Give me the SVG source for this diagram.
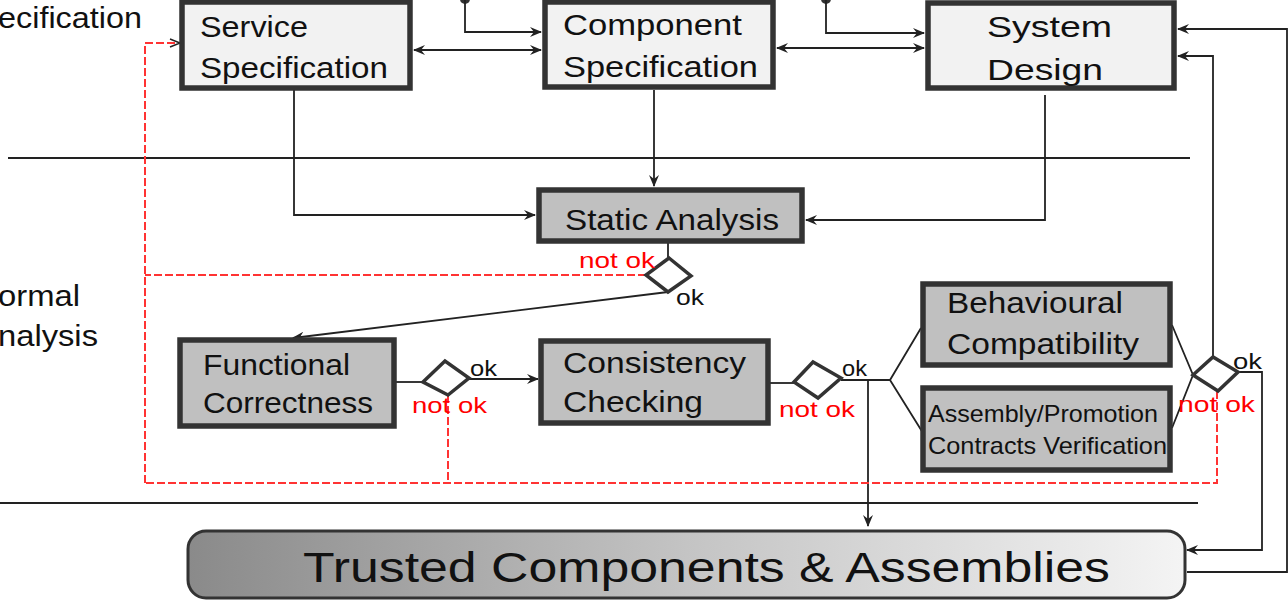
<svg xmlns="http://www.w3.org/2000/svg" width="1288" height="600" viewBox="0 0 1288 600">
<defs>
<marker id="arr" viewBox="0 0 12 10" refX="11" refY="5" markerWidth="12" markerHeight="10" markerUnits="userSpaceOnUse" orient="auto-start-reverse">
<path d="M0,0 L12,5 L0,10 L4,5 z" fill="#222"/>
</marker>
<linearGradient id="grad" x1="0" y1="0" x2="1" y2="0">
<stop offset="0" stop-color="#8a8a8a"/>
<stop offset="0.5" stop-color="#c4c4c4"/>
<stop offset="1" stop-color="#f4f4f4"/>
</linearGradient>
<style>
.t{font-family:"Liberation Sans",Arial,sans-serif;fill:#111}
.lt{fill:#f2f2f2;stroke:#333;stroke-width:5.5}
.dk{fill:#c0c0c0;stroke:#333;stroke-width:5.5}
.ln{fill:none;stroke:#222;stroke-width:1.8}
.rd{fill:none;stroke:#f33;stroke-width:2;stroke-dasharray:8 3}
.dm{fill:#fff;stroke:#333;stroke-width:3.5}
.red{font-family:"Liberation Sans",Arial,sans-serif;fill:#f00;font-size:22px}
.ok{font-family:"Liberation Sans",Arial,sans-serif;fill:#111;font-size:22px}
.sep{stroke:#222;stroke-width:2}
</style>
</defs>

<g id="labels">
<text class="t" x="-2" y="28" font-size="30" textLength="144" lengthAdjust="spacingAndGlyphs">ecification</text>
<text class="t" x="-2" y="306" font-size="30" textLength="82" lengthAdjust="spacingAndGlyphs">ormal</text>
<text class="t" x="-2" y="346" font-size="30" textLength="100" lengthAdjust="spacingAndGlyphs">nalysis</text>
</g>

<g id="separators">
<line class="sep" x1="8" y1="158" x2="1190" y2="158"/>
<line class="sep" x1="0" y1="503" x2="1198" y2="503"/>
</g>

<g id="connectors">
<circle cx="465" cy="-1" r="5" fill="#333"/>
<circle cx="826" cy="-1" r="5" fill="#333"/>
<path class="ln" d="M465,0 V32 H541" marker-end="url(#arr)"/>
<path class="ln" d="M826,0 V33 H924" marker-end="url(#arr)"/>
<path class="ln" d="M414,50 H541" marker-start="url(#arr)" marker-end="url(#arr)"/>
<path class="ln" d="M777,48 H924" marker-start="url(#arr)" marker-end="url(#arr)"/>
<path class="ln" d="M1187,572 H1287 V29 H1178" marker-end="url(#arr)"/>
<path class="ln" d="M1213,357 V56 H1178" marker-end="url(#arr)"/>
<path class="ln" d="M654,90 V186" marker-end="url(#arr)"/>
<path class="ln" d="M294,90 V215 H535" marker-end="url(#arr)"/>
<path class="ln" d="M1045,95 V220 H806" marker-end="url(#arr)"/>
<path class="ln" d="M668,243 V258"/>
<path class="ln" d="M668,292 L293,338" marker-end="url(#arr)"/>
<path class="ln" d="M396,382 H423"/>
<path class="ln" d="M469,379 H538" marker-end="url(#arr)"/>
<path class="ln" d="M770,383 H794"/>
<path class="ln" d="M841,380 H890 L921,328 M890,380 L923,433"/>
<path class="ln" d="M868,380 V526" marker-end="url(#arr)"/>
<path class="ln" d="M1172,325 L1193,375 L1172,428"/>
<path class="ln" d="M1238,372 H1262 V550 H1187" marker-end="url(#arr)"/>
<path class="rd" d="M646,275 H145"/>
<path class="rd" d="M145,483 V43 H178"/>
<path d="M170,39 L180,43 L170,47" fill="none" stroke="#222" stroke-width="1.5"/>
<path class="rd" d="M448,395 V483"/>
<path class="rd" d="M1217,391 V483 H145"/>
</g>

<g id="service-specification">
<rect class="lt" x="182" y="2" width="228" height="86"/>
<text class="t" x="200" y="37" font-size="30" textLength="108" lengthAdjust="spacingAndGlyphs">Service</text>
<text class="t" x="200" y="78" font-size="30" textLength="188" lengthAdjust="spacingAndGlyphs">Specification</text>
</g>

<g id="component-specification">
<rect class="lt" x="545" y="2" width="228" height="85"/>
<text class="t" x="563" y="35" font-size="30" textLength="179" lengthAdjust="spacingAndGlyphs">Component</text>
<text class="t" x="563" y="77" font-size="30" textLength="195" lengthAdjust="spacingAndGlyphs">Specification</text>
</g>

<g id="system-design">
<rect class="lt" x="928" y="3" width="246" height="85"/>
<text class="t" x="987" y="37" font-size="30" textLength="125" lengthAdjust="spacingAndGlyphs">System</text>
<text class="t" x="987" y="80" font-size="30" textLength="116" lengthAdjust="spacingAndGlyphs">Design</text>
</g>

<g id="static-analysis">
<rect class="dk" x="539" y="190" width="263" height="51"/>
<text class="t" x="565" y="230" font-size="30" textLength="214" lengthAdjust="spacingAndGlyphs">Static Analysis</text>
</g>

<g id="decision-static">
<polygon class="dm" points="669,258 691,276 668,292 646,275"/>
<text class="red" x="579" y="268" textLength="76" lengthAdjust="spacingAndGlyphs">not ok</text>
<text class="ok" x="676" y="305" textLength="28" lengthAdjust="spacingAndGlyphs">ok</text>
</g>

<g id="functional-correctness">
<rect class="dk" x="180" y="340" width="214" height="86"/>
<text class="t" x="203" y="375" font-size="30" textLength="147" lengthAdjust="spacingAndGlyphs">Functional</text>
<text class="t" x="203" y="413" font-size="30" textLength="170" lengthAdjust="spacingAndGlyphs">Correctness</text>
</g>

<g id="decision-functional">
<polygon class="dm" points="423,382 445,361 469,378 448,395"/>
<text class="ok" x="470" y="376" textLength="27" lengthAdjust="spacingAndGlyphs">ok</text>
<text class="red" x="412" y="413" textLength="75" lengthAdjust="spacingAndGlyphs">not ok</text>
</g>

<g id="consistency-checking">
<rect class="dk" x="541" y="341" width="227" height="82"/>
<text class="t" x="563" y="373" font-size="30" textLength="183" lengthAdjust="spacingAndGlyphs">Consistency</text>
<text class="t" x="563" y="412" font-size="30" textLength="140" lengthAdjust="spacingAndGlyphs">Checking</text>
</g>

<g id="decision-consistency">
<polygon class="dm" points="794,382 813,362 841,378 818,398"/>
<text class="ok" x="842" y="376" textLength="25" lengthAdjust="spacingAndGlyphs">ok</text>
<text class="red" x="779" y="417" textLength="76" lengthAdjust="spacingAndGlyphs">not ok</text>
</g>

<g id="behavioural-compatibility">
<rect class="dk" x="923" y="284" width="247" height="81"/>
<text class="t" x="947" y="313" font-size="30" textLength="176" lengthAdjust="spacingAndGlyphs">Behavioural</text>
<text class="t" x="947" y="354" font-size="30" textLength="192" lengthAdjust="spacingAndGlyphs">Compatibility</text>
</g>

<g id="assembly-promotion">
<rect class="dk" x="923" y="388" width="247" height="82"/>
<text class="t" x="928" y="422" font-size="24" textLength="230" lengthAdjust="spacingAndGlyphs">Assembly/Promotion</text>
<text class="t" x="928" y="454" font-size="24" textLength="239" lengthAdjust="spacingAndGlyphs">Contracts Verification</text>
</g>

<g id="decision-final">
<polygon class="dm" points="1193,375 1213,357 1238,372 1218,391"/>
<text class="ok" x="1233" y="369" textLength="29" lengthAdjust="spacingAndGlyphs">ok</text>
<text class="red" x="1178" y="412" textLength="77" lengthAdjust="spacingAndGlyphs">not ok</text>
</g>

<g id="trusted-components">
<rect x="188" y="531" width="997" height="67" rx="18" ry="18" fill="url(#grad)" stroke="#333" stroke-width="3"/>
<text class="t" x="303" y="582" font-size="42" textLength="807" lengthAdjust="spacingAndGlyphs">Trusted Components &amp; Assemblies</text>
</g>
</svg>
